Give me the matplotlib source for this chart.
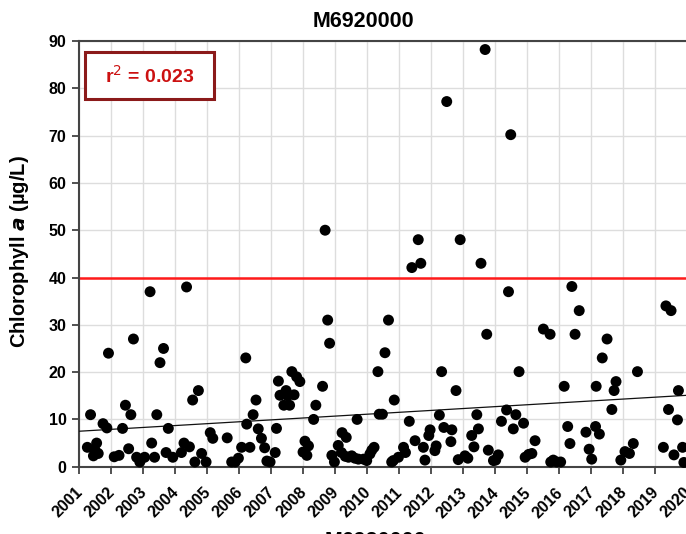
import numpy as np
import matplotlib
matplotlib.use("Agg")
import matplotlib.pyplot as plt
import matplotlib.transforms as mtransforms
from matplotlib.patches import Rectangle

plt.rcParams['font.family'] = ['Liberation Sans', 'DejaVu Sans']

station = 'M6920000'

# sample dates (decimal years) and chlorophyll a (ug/L)
dates = [
    2001.26, 2001.36, 2001.45, 2001.50, 2001.55, 2001.60, 2001.75, 2001.87, 2001.92,
    2002.10, 2002.25, 2002.36, 2002.45, 2002.55, 2002.62, 2002.70, 2002.80, 2002.90,
    2003.05, 2003.22, 2003.27, 2003.36, 2003.43, 2003.53, 2003.64, 2003.72, 2003.79, 2003.93,
    2004.20, 2004.28, 2004.36, 2004.45, 2004.55, 2004.62, 2004.73, 2004.83, 2004.97,
    2005.10, 2005.18, 2005.63, 2005.77, 2005.88, 2005.98,
    2006.08, 2006.21, 2006.24, 2006.34, 2006.44, 2006.53, 2006.60, 2006.70, 2006.80, 2006.87, 2006.97,
    2007.13, 2007.17, 2007.23, 2007.28, 2007.40, 2007.47, 2007.52, 2007.58, 2007.65, 2007.72,
    2007.80, 2007.90,
    2008.00, 2008.06, 2008.12, 2008.17, 2008.33, 2008.40, 2008.61, 2008.69, 2008.77, 2008.83,
    2008.90, 2008.98,
    2009.10, 2009.20, 2009.22, 2009.32, 2009.35, 2009.42, 2009.52, 2009.62, 2009.69, 2009.73,
    2009.89, 2009.99,
    2010.09, 2010.15, 2010.22, 2010.34, 2010.38, 2010.48, 2010.56, 2010.67, 2010.77, 2010.82,
    2010.85, 2010.98,
    2011.14, 2011.20, 2011.32, 2011.40, 2011.50, 2011.60, 2011.68, 2011.76, 2011.81, 2011.93,
    2011.97,
    2012.12, 2012.16, 2012.26, 2012.33, 2012.40, 2012.49, 2012.62, 2012.65, 2012.78, 2012.85,
    2012.91,
    2013.06, 2013.15, 2013.27, 2013.34, 2013.43, 2013.48, 2013.56, 2013.69, 2013.74, 2013.79,
    2013.95,
    2014.02, 2014.10, 2014.20, 2014.36, 2014.42, 2014.49, 2014.57, 2014.65, 2014.75, 2014.89,
    2014.94,
    2015.05, 2015.15, 2015.25, 2015.51, 2015.72, 2015.74, 2015.82, 2015.93,
    2016.05, 2016.16, 2016.27, 2016.34, 2016.40, 2016.50, 2016.63, 2016.84, 2016.94,
    2017.02, 2017.14, 2017.16, 2017.26, 2017.35, 2017.50, 2017.65, 2017.72, 2017.78, 2017.93,
    2018.06, 2018.20, 2018.32, 2018.45,
    2019.26, 2019.34, 2019.42, 2019.50, 2019.59, 2019.70, 2019.73, 2019.86, 2019.90,
]
chla = [
    4.1, 11.0, 2.3, 3.5, 5.0, 2.8, 9.1, 8.2, 24.0,
    2.1, 2.4, 8.1, 13.0, 3.8, 11.0, 27.0, 2.0, 1.0,
    2.0, 37.0, 5.0, 2.0, 11.0, 22.0, 25.0, 3.0, 8.1, 2.0,
    3.0, 5.0, 38.0, 4.2, 14.1, 1.0, 16.1, 2.8, 1.0,
    7.2, 6.0, 6.1, 1.0, 1.0, 1.8,
    4.1, 23.0, 9.0, 4.1, 11.0, 14.1, 8.0, 6.0, 4.0, 1.2, 1.0,
    3.0, 8.1, 18.1, 15.1, 13.0, 16.1, 15.0, 13.0, 20.1, 15.2,
    19.0, 18.0,
    3.1, 5.4, 2.4, 4.4, 10.0, 13.0, 17.0, 50.0, 31.0, 26.1,
    2.4, 1.0,
    4.5, 3.0, 7.2, 2.2, 6.2, 2.0, 2.3, 1.8, 10.0, 1.6,
    1.6, 1.3,
    2.7, 3.5, 4.1, 20.1, 11.1, 11.1, 24.1, 31.0, 1.0, 1.3,
    14.1, 2.0,
    4.1, 3.0, 9.6, 42.1, 5.5, 48.0, 43.0, 4.1, 1.4, 6.6,
    7.8,
    3.4, 4.4, 10.9, 20.1, 8.3, 77.2, 5.3, 7.8, 16.1, 1.5,
    48.0,
    2.3, 1.8, 6.6, 4.2, 11.0, 8.0, 43.0, 88.2, 28.0, 3.5,
    1.3,
    1.4, 2.5, 9.6, 12.0, 37.0, 70.2, 8.0, 11.0, 20.1, 9.2,
    2.0,
    2.6, 2.8, 5.5, 29.1, 28.0, 1.0, 1.4, 1.0,
    1.0, 17.0, 8.5, 4.9, 38.1, 28.0, 33.0, 7.3, 3.7,
    1.6, 8.5, 17.0, 6.9, 23.0, 27.0, 12.1, 16.1, 18.0, 1.4,
    3.2, 2.8, 4.9, 20.1,
    4.1, 34.0, 12.1, 33.0, 2.5, 9.9, 16.1, 4.1, 0.9,
]

years = list(range(2001, 2021))
threshold = 40
trend_start = 7.5     # trend value at 2001
trend_slope = 0.40    # ug/L per year
r2_text = '0.023'

fig = plt.figure(figsize=(6.86, 5.34), dpi=100)
ax = fig.add_axes([0.1152, 0.126, 0.933, 0.7972])

ax.grid(True, color='#dddddd', lw=1.0, zorder=0)
ax.axhline(threshold, color='#ff1a1a', lw=1.8, zorder=2)

tx = np.array([2001, 2021])
ax.plot(tx, trend_start + trend_slope * (tx - 2001), color='#111111', lw=0.9, zorder=3)

ax.scatter(dates, chla, s=62, color='black', edgecolors='none', zorder=4, clip_on=False)

ax.set_xlim(2001, 2021)
ax.set_ylim(0, 90)
ax.set_xticks(years)
ax.set_xticklabels([str(y) for y in years], rotation=45, ha='right', va='top',
                   fontsize=11.5, fontweight='bold', rotation_mode='anchor')
ax.set_yticks(range(0, 91, 10))
ax.set_yticklabels([str(v) for v in range(0, 91, 10)], fontsize=11.5, fontweight='bold')
ax.tick_params(axis='y', direction='out', length=5, width=1.2, color='#333333', pad=4)
ax.tick_params(axis='x', direction='out', length=5, width=1.2, color='#333333', pad=8)

# nudge the slanted year labels left so they end under their ticks
shift = mtransforms.ScaledTranslation(-4 / 100, 0, fig.dpi_scale_trans)
for lab in ax.get_xticklabels():
    lab.set_transform(lab.get_transform() + shift)

for side in ['left', 'bottom', 'top']:
    ax.spines[side].set_color('#444444')
    ax.spines[side].set_linewidth(1.5)
ax.spines['right'].set_visible(False)

fig.text(20 / 686, (534 - 252) / 534, 'Chlorophyll $\\mathbfit{a}$ (µg/L)',
         rotation=90, ha='center', va='center', fontsize=14.5, fontweight='bold')

fig.text(363 / 686, (534 - 27) / 534, station, ha='center', va='baseline',
         fontsize=15.5, fontweight='bold')
fig.text(375 / 686, -13 / 534, station, ha='center', va='baseline',
         fontsize=15.5, fontweight='bold')

# r-squared box
fig.patches.append(Rectangle((85 / 686, (534 - 99) / 534), 129 / 686, 47 / 534,
                             transform=fig.transFigure, facecolor='white',
                             edgecolor='#8b1a1a', lw=2.2, zorder=6))
fig.text(149.5 / 686, (534 - 76) / 534, 'r$^{2}$ = ' + r2_text, ha='center', va='center',
         fontsize=14, fontweight='bold', color='#cc1111', zorder=7)

fig.savefig('out.png', dpi=100)
